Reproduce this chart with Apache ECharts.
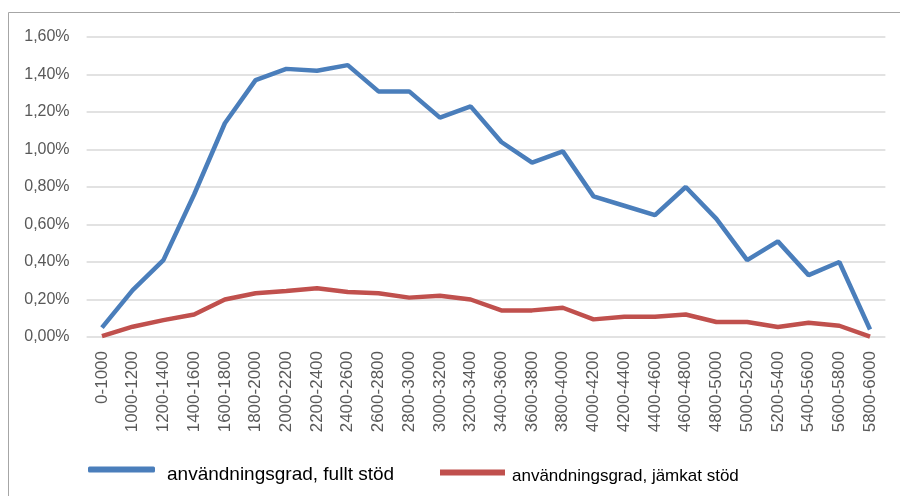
<!DOCTYPE html>
<html>
<head>
<meta charset="utf-8">
<script src="https://cdn.jsdelivr.net/npm/echarts@6/dist/echarts.min.js"></script>
<style>html,body{margin:0;padding:0;background:#fff}#c{width:900px;height:496px}</style>
</head>
<body>
<div id="c"></div>
<script>
var categories = ['0-1000','1000-1200','1200-1400','1400-1600','1600-1800','1800-2000','2000-2200','2200-2400','2400-2600','2600-2800','2800-3000','3000-3200','3200-3400','3400-3600','3600-3800','3800-4000','4000-4200','4200-4400','4400-4600','4600-4800','4800-5000','5000-5200','5200-5400','5400-5600','5600-5800','5800-6000'];
var fulltStod = [0.05,0.25,0.41,0.76,1.14,1.37,1.43,1.42,1.45,1.31,1.31,1.17,1.23,1.04,0.93,0.99,0.75,0.70,0.65,0.80,0.63,0.41,0.51,0.33,0.40,0.04];
var jamkatStod = [0.005,0.055,0.09,0.12,0.20,0.233,0.245,0.26,0.24,0.233,0.21,0.22,0.20,0.142,0.142,0.156,0.094,0.108,0.108,0.12,0.08,0.08,0.053,0.076,0.06,0.002];
var seriesNames = ['användningsgrad, fullt stöd','användningsgrad, jämkat stöd'];
var yTicks = {min:0, max:1.6, interval:0.2};

var chart = echarts.init(document.getElementById('c'));
var font = '"Liberation Sans", Arial, sans-serif';
chart.setOption({
  animation:false,
  graphic:[{type:'rect',shape:{x:8.5,y:12.5,width:1000,height:1000},style:{fill:'none',stroke:'#a6a6a6',lineWidth:1},silent:true}],
  grid:{left:86.6,right:14.6,top:37,bottom:159},
  legend:[
    {data:[{name:seriesNames[0],icon:'roundRect'}],left:88,top:465,padding:0,itemWidth:67,itemHeight:6,
     formatter:function(n){return '{t|'+n+'}';},
     textStyle:{fontFamily:font,fontSize:19,color:'#000',padding:[0,0,0,7],
       rich:{t:{fontFamily:font,fontSize:19,color:'#000',padding:[10,0,0,0]}}}},
    {data:[{name:seriesNames[1],icon:'rect'}],left:440,top:468,padding:0,itemWidth:65,itemHeight:6,
     formatter:function(n){return '{t|'+n+'}';},
     textStyle:{fontFamily:font,fontSize:17,color:'#000',padding:[0,0,0,2],
       rich:{t:{fontFamily:font,fontSize:17,color:'#000',padding:[8,0,0,0]}}}}
  ],
  xAxis:{type:'category',data:categories,boundaryGap:true,
    axisLine:{show:false},axisTick:{show:false},
    axisLabel:{rotate:90,interval:0,margin:14,fontFamily:font,fontSize:17,color:'#595959'}},
  yAxis:{type:'value',min:yTicks.min,max:yTicks.max,interval:yTicks.interval,
    axisLine:{show:false},axisTick:{show:false},
    splitLine:{lineStyle:{color:'#d9d9d9',width:1.5}},
    axisLabel:{margin:17,fontFamily:font,fontSize:16,color:'#595959',
      formatter:function(v){return v.toFixed(2).replace('.',',')+'%';}}},
  series:[
    {name:seriesNames[0],type:'line',data:fulltStod,symbol:'none',lineStyle:{color:'#4a7ebb',width:4.5},itemStyle:{color:'#4a7ebb'}},
    {name:seriesNames[1],type:'line',data:jamkatStod,symbol:'none',lineStyle:{color:'#c0504d',width:4.5},itemStyle:{color:'#c0504d'}}
  ]
});
</script>
</body>
</html>
